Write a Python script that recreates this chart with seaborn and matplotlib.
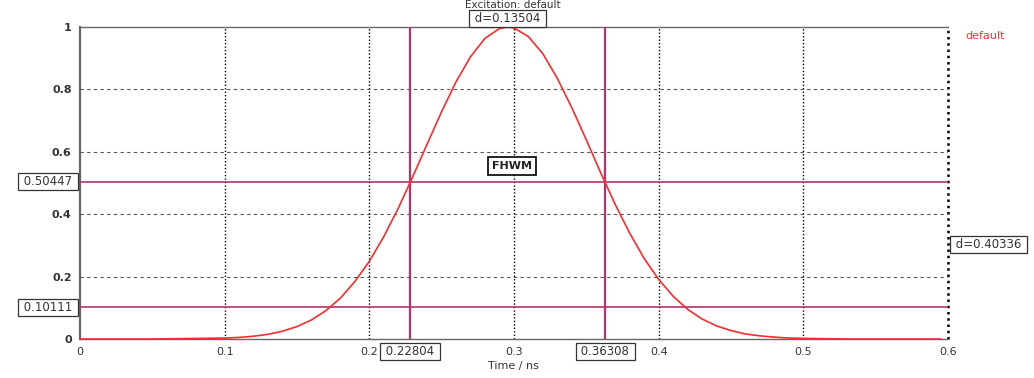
import matplotlib
matplotlib.use("Agg")
import matplotlib.pyplot as plt
import seaborn as sns
import pandas as pd

# ---- data ----
time_ns = [0.0, 0.05, 0.10, 0.11, 0.12, 0.13, 0.14, 0.15, 0.16, 0.17, 0.18, 0.19,
           0.20, 0.21, 0.22, 0.23, 0.24, 0.25, 0.26, 0.27, 0.28, 0.29, 0.2956,
           0.30, 0.31, 0.32, 0.33, 0.34, 0.35, 0.36, 0.37, 0.38, 0.39, 0.40,
           0.41, 0.42, 0.43, 0.44, 0.45, 0.46, 0.47, 0.48, 0.49, 0.50, 0.53, 0.595]
amplitude = [0.0, 0.0, 0.003, 0.005, 0.009, 0.015, 0.025, 0.040, 0.061, 0.091, 0.131, 0.184,
             0.249, 0.328, 0.419, 0.520, 0.625, 0.729, 0.825, 0.905, 0.964, 0.995, 1.0,
             0.997, 0.969, 0.914, 0.835, 0.741, 0.638, 0.532, 0.431, 0.339, 0.258, 0.191,
             0.137, 0.095, 0.064, 0.042, 0.027, 0.016, 0.010, 0.006, 0.003, 0.002, 0.0, 0.0]

x_ticks = [0, 0.1, 0.2, 0.3, 0.4, 0.5, 0.6]
x_tick_labels = ["0", "0.1", "0.2", "0.3", "0.4", "0.5", "0.6"]
y_ticks = [0, 0.2, 0.4, 0.6, 0.8, 1]
y_tick_labels = ["0", "0.2", "0.4", "0.6", "0.8", "1"]

marker_x = [0.22804, 0.36308]
marker_y = [0.50447, 0.10111]
dx_label = "d=0.13504"
dy_label = "d=0.40336"
title = "Excitation: default"
xlabel = "Time / ns"
series_name = "default"
annotation = "FHWM"

# ---- plot ----
sns.set_style("white")
plt.rcParams['font.family'] = ['DejaVu Sans']

fig = plt.figure(figsize=(10.34, 3.78), dpi=100)
ax = fig.add_axes([80/1034, 39/378, 868/1034, 312/378])

df = pd.DataFrame({"t": time_ns, "a": amplitude})
sns.lineplot(data=df, x="t", y="a", ax=ax, color="#ff2a2a", linewidth=1.2, zorder=4)
ax.set_xlabel("")
ax.set_ylabel("")

ax.set_xlim(0, 0.6)
ax.set_ylim(0, 1)
ax.set_xticks(x_ticks)
ax.set_xticklabels(x_tick_labels, fontsize=8, color="#333333")
ax.set_yticks(y_ticks)
ax.set_yticklabels(y_tick_labels, fontsize=8, color="#333333", fontweight="bold")
ax.tick_params(axis="both", direction="out", length=4, width=0.8, color="#555555", pad=2)

# grid
for xv in x_ticks[1:]:
    ax.axvline(xv, color="black", linestyle=(0, (1, 1.5)), linewidth=1.0 if xv < 0.6 else 1.8,
               zorder=1, clip_on=False)
for yv in y_ticks[1:-1]:
    ax.axhline(yv, color="#555555", linestyle=(0, (3, 3)), linewidth=0.8, zorder=1)

for s in ["left", "bottom", "top"]:
    ax.spines[s].set_color("#666666")
ax.spines["left"].set_linewidth(1.6)
ax.spines["bottom"].set_linewidth(1.0)
ax.spines["top"].set_linewidth(1.0)
ax.spines["right"].set_visible(False)

mcol = "#b3336f"
for xv in marker_x:
    ax.axvline(xv, color=mcol, linewidth=1.6, zorder=3)
for yv in marker_y:
    ax.axhline(yv, color=mcol, linewidth=1.2, zorder=3)

box = dict(boxstyle="square,pad=0.15", facecolor="white", edgecolor="#333333", linewidth=0.9)
fs = 8.5

# y marker labels left of axis
for yv in marker_y:
    ax.annotate(f" {yv:.5f} ", xy=(0, yv), xycoords=("axes fraction", "data"),
                xytext=(-3, 0), textcoords="offset points", ha="right", va="center",
                fontsize=fs, color="#333333", bbox=box, annotation_clip=False, zorder=6)
# x marker labels below axis
for xv in marker_x:
    ax.annotate(f" {xv:.5f} ", xy=(xv, 0), xycoords=("data", "axes fraction"),
                xytext=(0, -9), textcoords="offset points", ha="center", va="center",
                fontsize=fs, color="#333333", bbox=box, annotation_clip=False, zorder=6)

ax.annotate(f" {dx_label} ", xy=((marker_x[0] + marker_x[1]) / 2, 1), xycoords=("data", "axes fraction"),
            xytext=(0, 6.3), textcoords="offset points", ha="center", va="center",
            fontsize=fs, color="#333333", bbox=box, annotation_clip=False, zorder=6)
ax.annotate(f" {dy_label} ", xy=(1, (marker_y[0] + marker_y[1]) / 2), xycoords=("axes fraction", "data"),
            xytext=(3, 0), textcoords="offset points", ha="left", va="center",
            fontsize=fs, color="#333333", bbox=box, annotation_clip=False, zorder=6)

ax.text(0.2986, 0.554, annotation, ha="center", va="center", fontsize=8, fontweight="bold",
        color="#222222", bbox=dict(boxstyle="square,pad=0.35", facecolor="white",
                                    edgecolor="black", linewidth=1.2), zorder=6)

fig.text(513/1034, 1 - 5/378, title, ha="center", va="center", fontsize=7.5, color="#333333")
fig.text(985/1034, 1 - 36/378, series_name, ha="center", va="center", fontsize=8, color="#ff3333")
fig.text(513/1034, 1 - 366/378, xlabel, ha="center", va="center", fontsize=8, color="#333333")

fig.savefig("out.png", dpi=100)
